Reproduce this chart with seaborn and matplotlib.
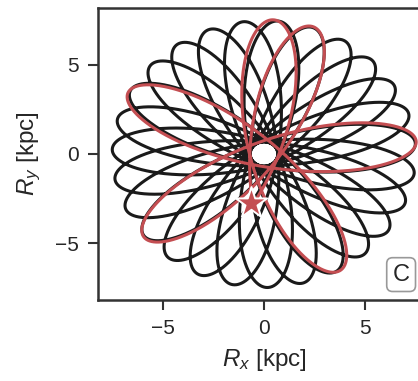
import numpy as np
import pandas as pd
import matplotlib
matplotlib.use("Agg")
import matplotlib.pyplot as plt
import seaborn as sns

# ---- orbit parameters ----
orbit_names = ["long", "recent"]
apocentre_kpc = [7.5, 7.55]
pericentre_kpc = [0.68, 0.7]
apsidal_angle_deg = [213.33, 213.0]     # azimuth between successive apocentres
first_apocentre_deg = [84.7, 86.5]
n_apocentres = [27, 6]
orbit_colors = ["#1a1a1a", "#c44e52"]

star_x = [-0.62]
star_y = [-2.75]

xticks = [-5, 0, 5]
yticks = [-5, 0, 5]
panel_label = "C"

sns.set_theme(style="ticks")
plt.rcParams["font.family"] = ["Liberation Sans", "DejaVu Sans"]
plt.rcParams["mathtext.fontset"] = "custom"
plt.rcParams["mathtext.it"] = "Liberation Sans:italic"
plt.rcParams["mathtext.rm"] = "Liberation Sans"


def orbit_frame(name, A, B, dphi, phi0, n):
    om = dphi / 180.0 - 1.0
    t = np.linspace(-np.pi, n * np.pi, 6000 * n)
    th = np.deg2rad(phi0) + om * t
    xp, yp = A * np.cos(t), B * np.sin(t)
    x = xp * np.cos(th) - yp * np.sin(th)
    y = xp * np.sin(th) + yp * np.cos(th)
    d = np.hypot(x - star_x[0], y - star_y[0])
    first = t < 0
    last = t > (n - 1) * np.pi
    i0 = np.argmin(np.where(first, d, np.inf))
    i1 = np.argmin(np.where(last, d, np.inf))
    sl = slice(i0, i1 + 1)
    return pd.DataFrame({"x": x[sl], "y": y[sl], "orbit": name,
                         "step": np.arange(i1 + 1 - i0)})


frames = [orbit_frame(*args) for args in zip(orbit_names, apocentre_kpc, pericentre_kpc,
                                               apsidal_angle_deg, first_apocentre_deg, n_apocentres)]

fig = plt.figure(figsize=(4.18, 3.81), dpi=100)
ax = fig.add_axes([98 / 418, 81 / 381, 332 / 418, 292 / 381])

for df, col, z in zip(frames, orbit_colors, [2, 3]):
    sns.lineplot(data=df, x="x", y="y", sort=False, estimator=None, color=col,
                 lw=2.2, ax=ax, zorder=z)

sns.scatterplot(x=star_x, y=star_y, marker="*", s=560, color=orbit_colors[1],
                edgecolor="white", linewidth=1.4, ax=ax, zorder=5)

ax.set_xlim(-8.2, 8.2)
ax.set_ylim(-8.2, 8.2)
ax.set_xticks(xticks)
ax.set_yticks(yticks)
ax.set_xlabel("$R_x$ [kpc]", fontsize=17.5, labelpad=7)
ax.set_ylabel("$R_y$ [kpc]", fontsize=17.5, labelpad=9)
ax.tick_params(labelsize=15, length=7.5, width=1.5, pad=6, color="#333333")
for s in ax.spines.values():
    s.set_linewidth(1.8)
    s.set_color("#333333")

ax.text(0.913, 0.087, panel_label, transform=ax.transAxes, ha="center", va="center",
        fontsize=17, bbox=dict(boxstyle="round,pad=0.25", fc="white", ec="#999999", lw=1.2))

fig.savefig("out.png", dpi=100)
